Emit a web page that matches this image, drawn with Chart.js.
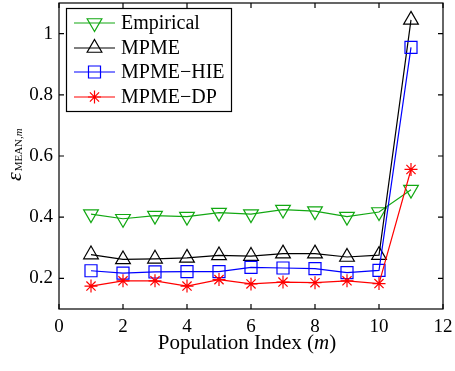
<!DOCTYPE html>
<html><head><meta charset="utf-8">
<script src="https://cdn.jsdelivr.net/npm/chart.js@4/dist/chart.umd.min.js"></script>
<style>html,body{margin:0;padding:0;background:#fff}#wrap{width:455px;height:371px;position:relative}</style>
</head><body><div id="wrap"><canvas id="c" width="455" height="371"></canvas></div>
<script>
const populationIndex = [1, 2, 3, 4, 5, 6, 7, 8, 9, 10, 11];
const empirical = [0.41, 0.395, 0.405, 0.402, 0.415, 0.41, 0.425, 0.42, 0.402, 0.417, 0.49];
const mpme      = [0.278, 0.262, 0.264, 0.267, 0.275, 0.273, 0.281, 0.281, 0.270, 0.276, 1.045];
const mpmeHie   = [0.225, 0.217, 0.221, 0.222, 0.222, 0.236, 0.234, 0.232, 0.219, 0.226, 0.955];
const mpmeDp    = [0.175, 0.192, 0.192, 0.175, 0.196, 0.182, 0.188, 0.186, 0.192, 0.183, 0.556];
const xTicks = [0, 2, 4, 6, 8, 10, 12];
const yTicks = [0.2, 0.4, 0.6, 0.8, 1];
const seriesNames = ['Empirical', 'MPME', 'MPME\u2212HIE', 'MPME\u2212DP'];

const SERIF = '"Liberation Serif", "Times New Roman", serif';
const GREEN = '#12a812', BLACK = '#000000', BLUE = '#0000ff', RED = '#ff0000';

function pts(vals) { return populationIndex.map((x, i) => ({ x: x, y: vals[i] })); }

const styles = [
  { color: GREEN, pointStyle: 'triangle', rotation: 180, radius: 8.5 },
  { color: BLACK, pointStyle: 'triangle', rotation: 0, radius: 8.5 },
  { color: BLUE, pointStyle: 'rect', rotation: 0, radius: 8.5 },
  { color: RED, pointStyle: 'star', rotation: 0, radius: 6.5 }
];
const seriesValues = [empirical, mpme, mpmeHie, mpmeDp];

const datasets = seriesValues.map((v, i) => ({
  label: seriesNames[i],
  data: pts(v),
  borderColor: styles[i].color,
  backgroundColor: 'rgba(0,0,0,0)',
  borderWidth: 1.2,
  pointStyle: styles[i].pointStyle,
  pointRotation: styles[i].rotation,
  pointRadius: styles[i].radius,
  pointHoverRadius: styles[i].radius,
  pointBorderColor: styles[i].color,
  pointBackgroundColor: 'rgba(0,0,0,0)',
  pointBorderWidth: 1.2,
  tension: 0,
  clip: false,
  order: 3 - i
}));

const framePlugin = {
  id: 'frame',
  afterDatasetsDraw(chart) {
    const ctx = chart.ctx, a = chart.chartArea;
    const xs = chart.scales.x, ys = chart.scales.y;
    ctx.save();
    ctx.strokeStyle = '#000';
    ctx.lineWidth = 1.2;
    ctx.strokeRect(a.left, a.top, a.right - a.left, a.bottom - a.top);
    const tl = 5;
    ctx.beginPath();
    xTicks.forEach(t => {
      const px = xs.getPixelForValue(t);
      ctx.moveTo(px, a.bottom); ctx.lineTo(px, a.bottom - tl);
      ctx.moveTo(px, a.top); ctx.lineTo(px, a.top + tl);
    });
    yTicks.forEach(t => {
      const py = ys.getPixelForValue(t);
      ctx.moveTo(a.left, py); ctx.lineTo(a.left + tl, py);
      ctx.moveTo(a.right, py); ctx.lineTo(a.right - tl, py);
    });
    ctx.stroke();

    // legend
    const lx = 66.5, ly = 8.5, lw = 165, lh = 103;
    ctx.fillStyle = '#fff';
    ctx.fillRect(lx, ly, lw, lh);
    ctx.strokeStyle = '#000';
    ctx.strokeRect(lx, ly, lw, lh);
    const rows = [23, 48, 72, 97];
    seriesNames.forEach((name, i) => {
      const y = rows[i];
      ctx.strokeStyle = styles[i].color;
      ctx.lineWidth = 1.2;
      ctx.beginPath(); ctx.moveTo(74, y); ctx.lineTo(115, y); ctx.stroke();
      ctx.fillStyle = 'rgba(0,0,0,0)';
      Chart.helpers.drawPoint(ctx, {
        pointStyle: styles[i].pointStyle, rotation: styles[i].rotation,
        radius: styles[i].radius, borderWidth: 1.2
      }, 94.5, y);
      ctx.fillStyle = '#000';
      ctx.font = '20px ' + SERIF;
      ctx.textBaseline = 'middle';
      ctx.textAlign = 'left';
      ctx.fillText(name, 121, y + 1);
    });

    // x title
    ctx.fillStyle = '#000';
    ctx.textBaseline = 'alphabetic';
    const p1 = 'Population Index (', p2 = 'm', p3 = ')';
    ctx.font = '21px ' + SERIF;
    const w1 = ctx.measureText(p1).width, w3 = ctx.measureText(p3).width;
    ctx.font = 'italic 21px ' + SERIF;
    const w2 = ctx.measureText(p2).width;
    let x0 = 247 - (w1 + w2 + w3) / 2;
    const by = 349;
    ctx.font = '21px ' + SERIF; ctx.fillText(p1, x0, by);
    ctx.font = 'italic 21px ' + SERIF; ctx.fillText(p2, x0 + w1, by);
    ctx.font = '21px ' + SERIF; ctx.fillText(p3, x0 + w1 + w2, by);

    // y title
    ctx.save();
    ctx.rotate(-Math.PI / 2);
    ctx.font = 'italic 22px ' + SERIF;
    ctx.fillText('\u03b5', -181, 21);
    const we = ctx.measureText('\u03b5').width;
    ctx.font = '11px ' + SERIF;
    const s1 = 'MEAN,';
    ctx.fillText(s1, -181 + we + 1, 22);
    const ws = ctx.measureText(s1).width;
    ctx.font = 'italic 11px ' + SERIF;
    ctx.fillText('m', -181 + we + 1 + ws, 22);
    ctx.restore();
    ctx.restore();
  }
};

new Chart(document.getElementById('c'), {
  type: 'line',
  data: { datasets: datasets },
  options: {
    responsive: false,
    animation: false,
    devicePixelRatio: 1,
    layout: { autoPadding: false, padding: { left: 0, top: 3, right: 12, bottom: 0 } },
    plugins: { legend: { display: false }, tooltip: { enabled: false } },
    scales: {
      x: {
        type: 'linear', min: 0, max: 12,
        afterBuildTicks: s => { s.ticks = xTicks.map(v => ({ value: v })); },
        afterFit: s => { s.height = 62; s.paddingLeft = 0; s.paddingRight = 0; },
        grid: { display: false, drawTicks: false },
        border: { display: false },
        ticks: { color: '#000', font: { family: SERIF, size: 19 }, padding: 7, maxRotation: 0, callback: v => String(v) }
      },
      y: {
        type: 'linear', min: 0.1, max: 1.1,
        afterBuildTicks: s => { s.ticks = yTicks.map(v => ({ value: v })); },
        afterFit: s => { s.width = 59; s.paddingTop = 0; s.paddingBottom = 0; },
        grid: { display: false, drawTicks: false },
        border: { display: false },
        ticks: { color: '#000', font: { family: SERIF, size: 19 }, padding: 6, callback: v => String(Math.round(v * 10) / 10) }
      }
    }
  },
  plugins: [framePlugin]
});
</script>
</body></html>
